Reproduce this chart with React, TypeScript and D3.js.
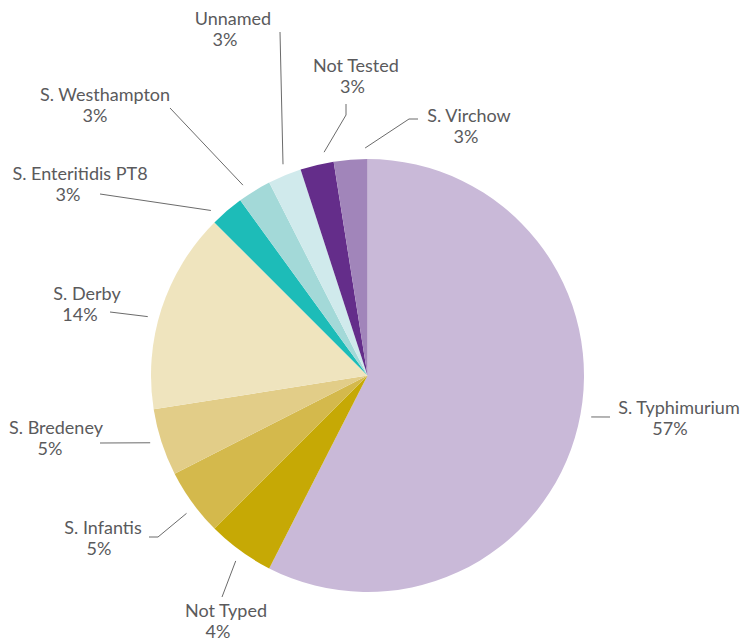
import * as d3 from "d3";
import { useRef, useEffect } from "react";

// Salmonella serotypes, clockwise from 12 o'clock
const serotypes = [
  "S. Typhimurium",
  "Not Typed",
  "S. Infantis",
  "S. Bredeney",
  "S. Derby",
  "S. Enteritidis PT8",
  "S. Westhampton",
  "Unnamed",
  "Not Tested",
  "S. Virchow",
];
const counts = [23, 2, 2, 2, 6, 1, 1, 1, 1, 1];
const pctLabels = ["57%", "4%", "5%", "5%", "14%", "3%", "3%", "3%", "3%", "3%"];
const colors = [
  "#c9b9d8",
  "#c6a905",
  "#d4b94c",
  "#e2cd88",
  "#efe4be",
  "#1dbcb8",
  "#a3d9d8",
  "#d0eaec",
  "#642d8a",
  "#a185ba",
];

// hand placed labels: centre x / baseline of first line, shift of second line,
// angle nudge (deg) for where the leader leaves the pie, and elbow points
const labelLayout = [
  { x: 679, y: 414, dx2: -9, nudge: -3, path: [[610, 417]] },
  { x: 226, y: 617, dx2: -8, nudge: -0.6, path: [[222, 597]] },
  { x: 103, y: 534, dx2: -4, nudge: -1.3, path: [[158, 537], [149, 537]] },
  { x: 56, y: 434, dx2: -6, nudge: 0.8, path: [[100, 443]] },
  { x: 87, y: 300, dx2: -7, nudge: -3, path: [[110, 312]] },
  { x: 80, y: 180, dx2: -12, nudge: -3, path: [[100, 194]] },
  { x: 105, y: 101, dx2: -10, nudge: -1.7, path: [[170, 108]] },
  { x: 233, y: 25, dx2: -8, nudge: 0.7, path: [[280, 32]] },
  { x: 356, y: 72, dx2: -3.5, nudge: 2.5, path: [[346, 115], [346, 104]] },
  { x: 469, y: 122, dx2: -3, nudge: 3.9, path: [[409, 119], [418, 119]] },
];

export default function App() {
  const svgRef = useRef<SVGSVGElement>(null);

  useEffect(() => {
    if (!svgRef.current) return;
    const svg = d3.select(svgRef.current);
    svg.selectAll("*").remove();

    const width = 747;
    const height = 643;
    const cx = 367.5;
    const cy = 375.5;
    const radius = 216.5;

    svg.attr("width", width).attr("height", height);

    const pie = d3
      .pie<number>()
      .sort(null)
      .value((d) => d);
    const arcs = pie(counts);

    const arc = d3.arc<any>().innerRadius(0).outerRadius(radius);

    const g = svg.append("g").attr("transform", `translate(${cx},${cy})`);

    g.selectAll("path")
      .data(arcs)
      .join("path")
      .attr("d", arc)
      .attr("fill", (_d, i) => colors[i]);

    // leader lines: start just outside the rim, near the slice's middle angle
    const rimR = radius + 11;
    const line = d3.line();
    svg
      .append("g")
      .selectAll("path")
      .data(arcs)
      .join("path")
      .attr("d", (d, i) => {
        const a = (d.startAngle + d.endAngle) / 2 + (labelLayout[i].nudge * Math.PI) / 180;
        const start: [number, number] = [cx + rimR * Math.sin(a), cy - rimR * Math.cos(a)];
        return line([start, ...(labelLayout[i].path as [number, number][])]);
      })
      .attr("fill", "none")
      .attr("stroke", "#6b6b6b")
      .attr("stroke-width", 1);

    // labels
    const labels = svg
      .append("g")
      .attr("font-family", "Lato, 'Open Sans', sans-serif")
      .attr("font-size", 18)
      .attr("fill", "#5a5a5c")
      .attr("text-anchor", "middle");

    serotypes.forEach((name, i) => {
      const l = labelLayout[i];
      labels.append("text").attr("x", l.x).attr("y", l.y).text(name);
      labels
        .append("text")
        .attr("x", l.x + l.dx2)
        .attr("y", l.y + 21)
        .text(pctLabels[i]);
    });

    return () => {
      svg.selectAll("*").remove();
    };
  }, []);

  return (
    <svg
      ref={svgRef}
      style={{ position: "absolute", left: 0, top: 0, display: "block", background: "#fff" }}
    />
  );
}
